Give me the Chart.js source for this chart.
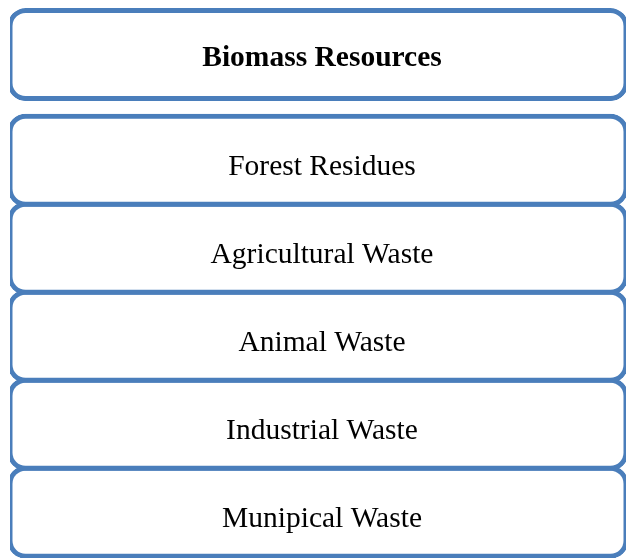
<!DOCTYPE html>
<html>
<head>
<meta charset="utf-8">
<script src="https://cdn.jsdelivr.net/npm/chart.js@4.4.0/dist/chart.umd.min.js"></script>
<style>
  html, body { margin: 0; padding: 0; background: #fff; }
  #wrap { width: 628px; height: 558px; position: relative; }
</style>
</head>
<body>
<div id="wrap"><canvas id="biomassChart"></canvas></div>
<script>
// boxes of the diagram, top to bottom
var boxLabels = ["Biomass Resources", "Forest Residues", "Agricultural Waste", "Animal Waste", "Industrial Waste", "Munipical Waste"];
// span of each box in row units (header, gap, then stacked rows)
var boxStart = [0, 1.2, 2.2, 3.2, 4.2, 5.2];
var boxEnd   = [1, 2.2, 3.2, 4.2, 5.2, 6.2];
var boxBold  = [true, false, false, false, false, false];

window.addEventListener('load', function () {
    var blue = "#4a7ebb";

    var datasets = boxLabels.map(function (name, i) {
        return {
            label: name,
            data: [[boxStart[i], boxEnd[i]]],
            backgroundColor: "#ffffff",
            borderColor: blue,
            borderWidth: 5,
            borderRadius: 18,
            borderSkipped: false,
            inflateAmount: 2.5,
            barPercentage: 1,
            categoryPercentage: 1,
            grouped: false
        };
    });

    // writes the box names in the middle of each box
    var boxText = {
        id: 'boxText',
        afterDatasetsDraw: function (chart) {
            var ctx = chart.ctx;
            ctx.save();
            ctx.fillStyle = "#000000";
            ctx.textAlign = "center";
            ctx.textBaseline = "alphabetic";
            chart.data.datasets.forEach(function (ds, i) {
                var bar = chart.getDatasetMeta(i).data[0];
                var mid = (bar.y + bar.base) / 2;
                ctx.font = (boxBold[i] ? "bold " : "") + "29.5px 'Liberation Serif', 'Times New Roman', serif";
                ctx.fillText(ds.label, 322, mid + (boxBold[i] ? 11 : 15));
            });
            ctx.restore();
        }
    };

    new Chart("biomassChart", {
        type: "bar",
        data: {
            labels: ["Biomass"],
            datasets: datasets
        },
        options: {
            responsive: true,
            maintainAspectRatio: false,
            animation: false,
            layout: { padding: { left: 10, right: 2, top: 0, bottom: 0 } },
            plugins: {
                legend: { display: false },
                title: { display: false },
                tooltip: { enabled: false }
            },
            scales: {
                x: { display: false, offset: true },
                y: { display: false, reverse: true, min: -0.12, max: 6.22 }
            }
        },
        plugins: [boxText]
    });
});
</script>
</body>
</html>
